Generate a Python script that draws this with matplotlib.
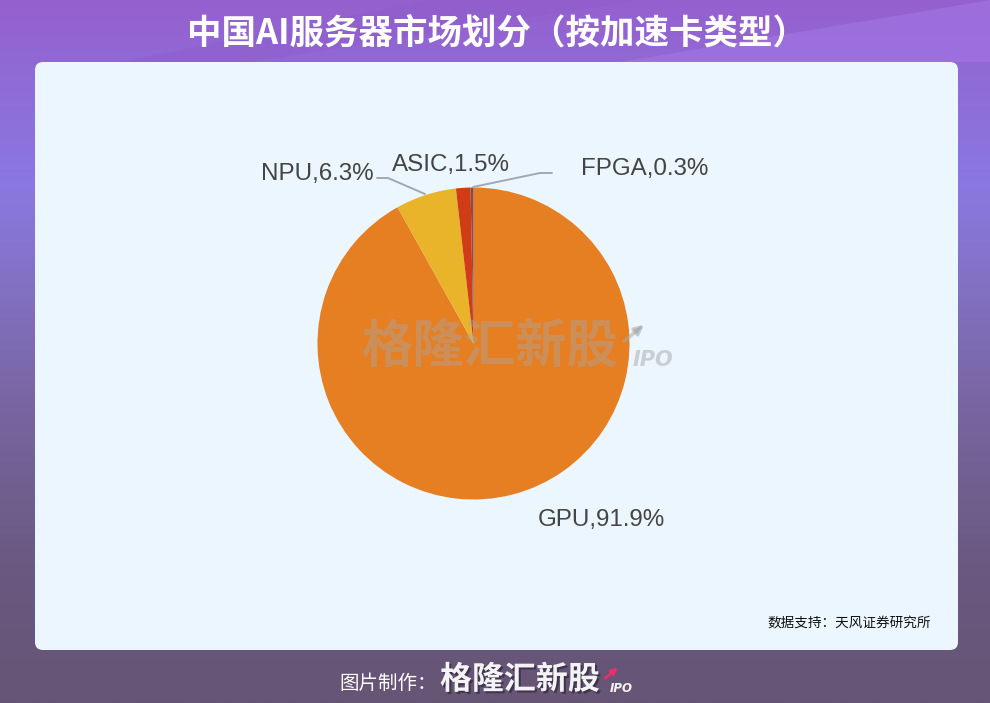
import numpy as np
import matplotlib
matplotlib.use("Agg")
import matplotlib.pyplot as plt
from matplotlib.patches import FancyBboxPatch, Polygon
from matplotlib.colors import LinearSegmentedColormap
import matplotlib.patheffects as pe

categories = ["GPU", "NPU", "ASIC", "FPGA"]
values = [91.9, 6.3, 1.5, 0.3]
colors = ["#E67E22", "#E9B42A", "#D13C17", "#8C4A45"]
title = "中国AI服务器市场划分（按加速卡类型）"
source = "数据支持：天风证券研究所"
credit = "图片制作："
brand = "格隆汇新股"

CJK = ["Noto Sans CJK SC", "DejaVu Sans"]
W, H = 990, 703
fig = plt.figure(figsize=(W / 100, H / 100), dpi=100)

bg = fig.add_axes([0, 0, 1, 1])
bg.set_xlim(0, W)
bg.set_ylim(H, 0)
bg.axis("off")
stops = [(0, "#9560CE"), (0.12, "#8F6CD8"), (0.27, "#8A78E0"), (0.42, "#8270C0"),
         (0.62, "#75639A"), (0.82, "#6A5880"), (1, "#665574")]
cmap = LinearSegmentedColormap.from_list("bg", stops)
bg.imshow(np.linspace(0, 1, 256)[:, None], extent=(0, W, H, 0), aspect="auto", cmap=cmap, zorder=0)
bg.add_patch(Polygon([[620, 62], [990, 0], [990, 62]], closed=True, fc="#A578E8", alpha=.55, ec="none", zorder=1))
bg.add_patch(Polygon([[430, 0], [640, 0], [250, 62], [120, 62]], closed=True, fc="#8C5CC8", alpha=.35, ec="none", zorder=1))
bg.set_xlim(0, W)
bg.set_ylim(H, 0)
bg.add_patch(FancyBboxPatch((43, 70), 907, 572, boxstyle="round,pad=8,rounding_size=8",
                            fc="#ECF6FE", ec="none", zorder=2))
bg.text(497, 33, title, color="white", fontsize=24.8, fontweight="bold", family=CJK,
        ha="center", va="center", zorder=3)
bg.text(931, 623, source, color="#111111", fontsize=9.8, family=CJK, ha="right", va="center", zorder=3)
bg.text(339, 683, credit, color="white", fontsize=14, family=CJK, ha="left", va="center", zorder=3)
bg.text(440, 680, brand, color="#F4F4F6", fontsize=23, fontweight="bold", family=CJK, ha="left", va="center", zorder=3,
        path_effects=[pe.withSimplePatchShadow(offset=(1.5, -1.5), shadow_rgbFace="#30283C", alpha=.7)])
bg.text(610, 688, "IPO", color="#F4F4F6", fontsize=8.5, fontweight="bold", style="italic", ha="left", va="center", zorder=3)
bg.annotate("", xy=(620, 666), xytext=(603, 680), zorder=3,
            arrowprops=dict(arrowstyle="-|>", color="#E8306A", lw=2, mutation_scale=9))

cx, cy, r = 473.5, 343.5, 156
pie_ax = fig.add_axes([(cx - r) / W, (H - cy - r) / H, 2 * r / W, 2 * r / H])
pie_ax.pie(values, colors=colors, startangle=90, counterclock=False, radius=1,
           wedgeprops=dict(linewidth=0))
pie_ax.set_xlim(-1, 1)
pie_ax.set_ylim(-1, 1)
pie_ax.axis("off")

fg = fig.add_axes([0, 0, 1, 1])
fg.set_xlim(0, W)
fg.set_ylim(H, 0)
fg.axis("off")
fg.patch.set_alpha(0)

wm = "#A8A8A8"
fg.text(362, 346, brand, color=wm, alpha=.42, fontsize=37, fontweight="bold", family=CJK, ha="left", va="center")
fg.text(633, 360, "IPO", color=wm, alpha=.5, fontsize=15, fontweight="bold", style="italic", ha="left", va="center")
fg.annotate("", xy=(646, 323), xytext=(622, 343),
            arrowprops=dict(arrowstyle="-|>", color=wm, alpha=.55, lw=2.5, mutation_scale=13))

label_spec = [(538, 520), (261, 174), (392, 165), (581, 169)]
for name, val, (x, y) in zip(categories, values, label_spec):
    fg.text(x, y, f"{name},{val}%", color="#444444", fontsize=17.4, family="Liberation Sans", ha="left", va="center")

line_c = "#A3A8AD"
fg.plot([377, 388, 425], [178, 178, 194], color=line_c, lw=1.4, solid_capstyle="round")
fg.plot([552, 540, 473], [173, 173, 187], color=line_c, lw=1.4, solid_capstyle="round")

fig.savefig("out.png", dpi=100)
